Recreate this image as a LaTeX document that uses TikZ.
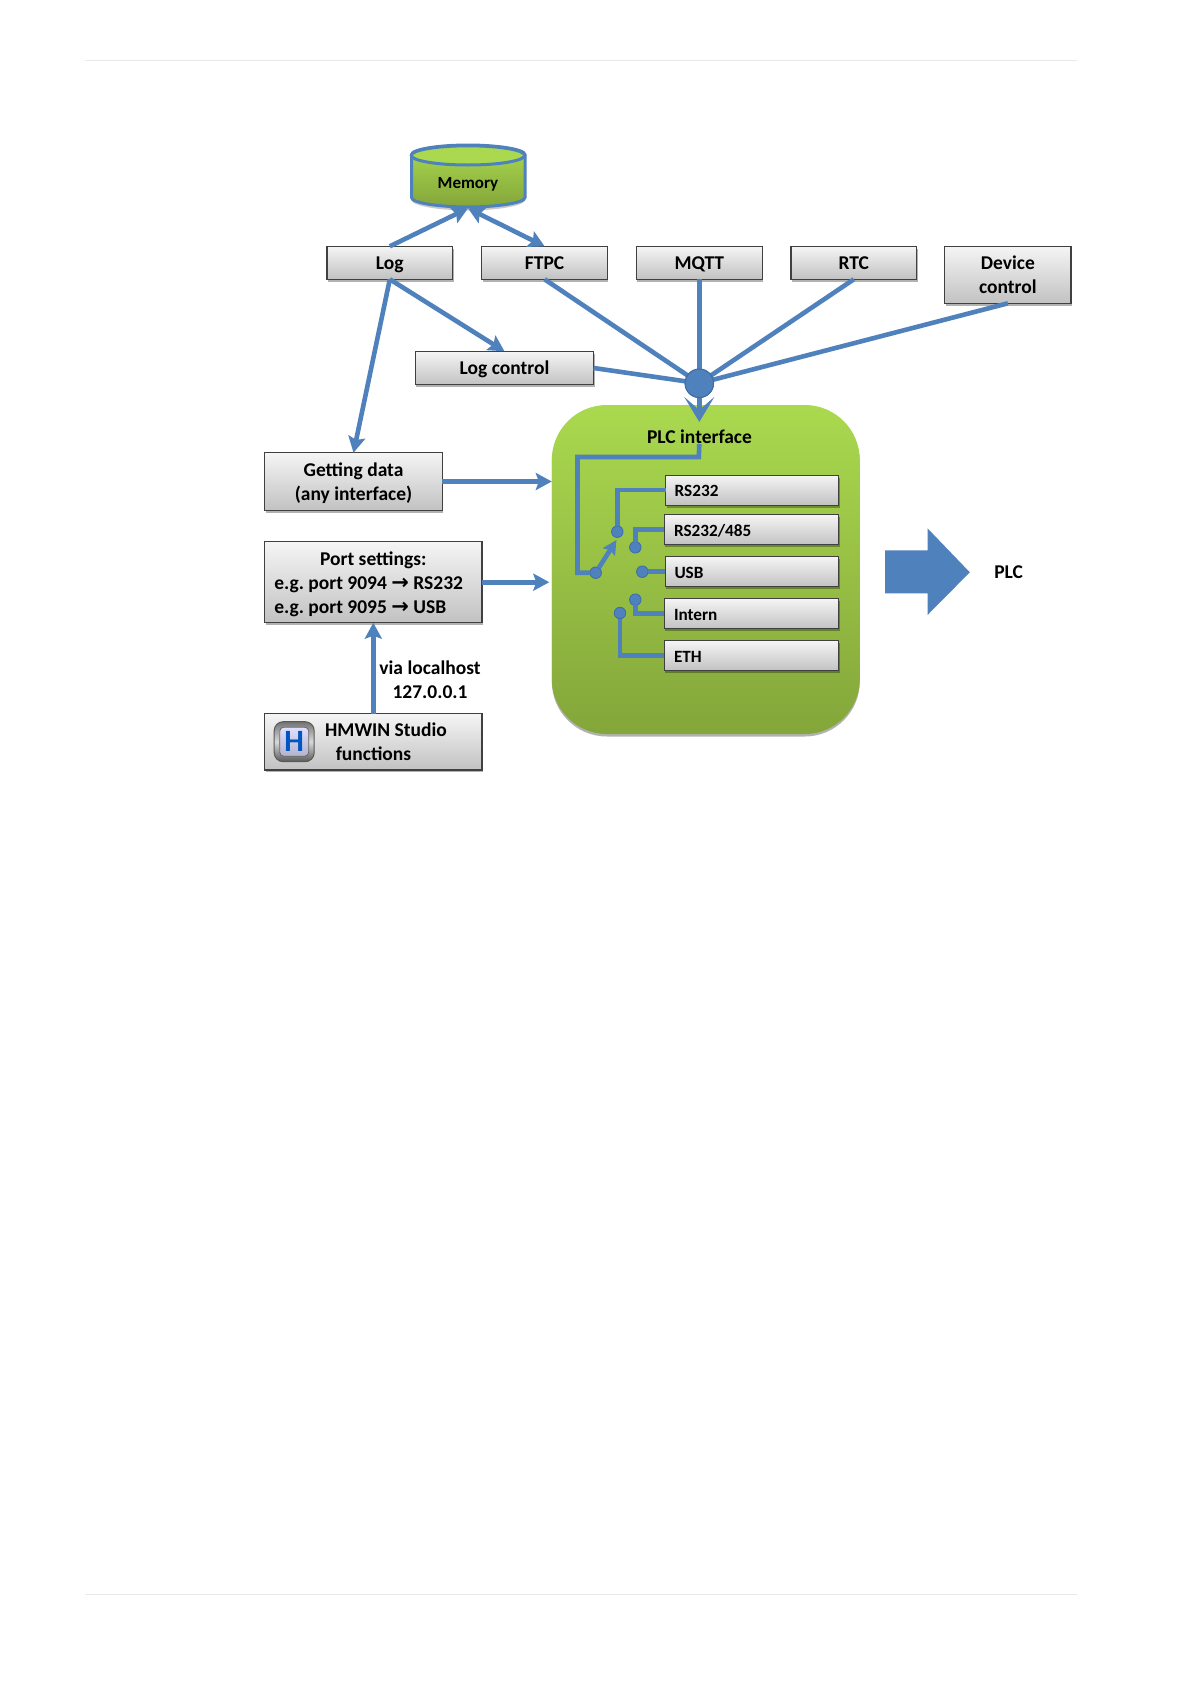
\documentclass[tikz,border=0pt]{standalone}
\usepackage{fontspec}
\setmainfont{Carlito}
\usetikzlibrary{arrows.meta,shadows,calc}
\definecolor{lnk}{HTML}{4F81BD}
\definecolor{lnkd}{HTML}{3B6CA8}
\definecolor{gtop}{HTML}{AAD94F}
\definecolor{gbot}{HTML}{84A63A}
\tikzset{
 box/.style={draw=black!75,line width=1.1pt,top color=white!96!black,bottom color=black!24,
   inner sep=0pt,outer sep=0pt,align=center,font=\frenchspacing\fontsize{19.5}{24.4}\selectfont\bfseries,
   drop shadow={shadow xshift=1pt,shadow yshift=-2.5pt,opacity=.3,fill=black}},
 one/.style={text height=16.5pt,text depth=3pt},
 port/.style={box,one,font=\fontsize{17.2}{20}\selectfont\bfseries,text width=155pt,align=left,minimum width=173.5pt,minimum height=30pt,line width=1pt},
 lnkl/.style={draw=lnk,line width=4.6pt},
 arr/.style={lnkl,-{Stealth[length=16pt,width=17pt,inset=3pt]}},
 dot/.style={circle,fill=lnk,draw=lnkd,line width=.8pt,minimum size=11.5pt,inner sep=0pt,outer sep=0pt},
 lab/.style={inner sep=0pt,align=center,font=\fontsize{19.5}{24.4}\selectfont\bfseries},
}
\begin{document}
\begin{tikzpicture}[x=1pt,y=-1pt]
\useasboundingbox (0,0) rectangle (1191,1684);
\fill[white] (0,0) rectangle (1191,1684);
\coordinate (hl) at (85,60.7); \coordinate (hr) at (1077,60.7);
\coordinate (fl) at (85,1594.7); \coordinate (fr) at (1077,1594.7);
\draw[black!9,line width=1.4pt] (hl) -- (hr);
\draw[black!9,line width=1.4pt] (fl) -- (fr);
% memory
\node[inner sep=0pt,outer sep=0pt,minimum width=114pt,minimum height=64pt] (mem) at (468,176.3) {};
\fill[black!35,opacity=.6] (411.5,157) -- (411.5,200)
  .. controls (411.5,206) and (440,210.5) .. (468,210.5) .. controls (496,210.5) and (525,206) .. (525,200) -- (525,157) -- cycle;
\draw[lnk,line width=3pt,top color=gtop,bottom color=gbot] (411.5,154.7) -- (411.5,197.5)
  .. controls (411.5,203) and (440,207) .. (468,207) .. controls (496,207) and (525,203) .. (525,197.5) -- (525,154.7)
  .. controls (525,149) and (496,145) .. (468,145) .. controls (440,145) and (411.5,149) .. (411.5,154.7) -- cycle;
\draw[lnk,line width=3pt,fill=gtop] (468,155.4) ellipse[x radius=56.7,y radius=9.6];
\node[lab,font=\fontsize{17}{20}\selectfont\bfseries] (memlab) at (468,184.5) {Memory};
% PLC block
\node[draw=none,top color=gtop,bottom color=gbot,rounded corners=55pt,minimum width=308pt,minimum height=329pt,inner sep=0pt,outer sep=0pt,
  drop shadow={shadow xshift=0pt,shadow yshift=-2.5pt,opacity=.3,fill=black}] (plc) at (705.8,569.5) {};
\node[lab] (plcl) at (699.5,436.5) {PLC interface};
% top row
\node[box,one,minimum width=125.7pt,minimum height=33pt] (log) at (389.8,262.8) {Log};
\node[box,one,minimum width=125.7pt,minimum height=33pt] (ftpc) at (544.6,262.8) {FTPC};
\node[box,one,minimum width=125.7pt,minimum height=33pt] (mqtt) at (699.3,262.8) {MQTT};
\node[box,one,minimum width=125.7pt,minimum height=33pt] (rtc) at (853.8,262.8) {RTC};
\node[box,minimum width=126.2pt,minimum height=57pt] (dev) at (1007.9,274.8) {Device\\control};
\node[box,one,minimum width=178.3pt,minimum height=33.4pt] (logc) at (504.5,368) {Log control};
\node[circle,fill=lnk,draw=lnkd,line width=.8pt,minimum size=28.5pt,inner sep=0pt,outer sep=0pt] (hub) at (699.3,383.3) {};
\node[box,minimum width=177.8pt,minimum height=57.6pt] (get) at (353.5,481.5) {\rule{0pt}{17pt}Getting data\\(any interface)};
\node[box,align=flush center,minimum width=217.4pt,minimum height=81pt,text width=198pt] (ps) at (373.3,582.2) {\rule{0pt}{18pt}Port settings:\\\makebox[198pt][l]{e.g. port 9094 {\fontspec{DejaVu Sans}\fontsize{21}{20}\selectfont →} RS232}\\\makebox[198pt][l]{e.g. port 9095 {\fontspec{DejaVu Sans}\fontsize{21}{20}\selectfont →} USB}};
\node[box,minimum width=217.4pt,minimum height=56.3pt] (hm) at (373.3,741.8) {};
\node[lab] (hm1) at (386,729.5) {HMWIN Studio};
\node[lab] (hm2) at (373.5,753.5) {functions};
\node[lab] (via) at (430,679.5) {via localhost\\127.0.0.1};
% icon
\node[draw=black!65,line width=1pt,rounded corners=9pt,top color=black!55,bottom color=black!65,middle color=black!15,minimum size=40pt,inner sep=0pt] (icon) at (294.2,741.7) {};
\node[draw=black!60,line width=.8pt,rounded corners=4pt,top color=blue!12!white,bottom color=blue!35!black!30,minimum width=29pt,minimum height=29pt,inner sep=0pt] (iconin) at (294.2,741.7) {};
\node[text=blue!55!cyan!75!black,inner sep=0pt,font=\fontsize{31}{31}\selectfont\bfseries] (iconh) at (294.2,741.7) {H};
% inner ports
\node[port,minimum width=173pt] (r1) at (752.2,490) {RS232};
\node[port,minimum width=174.4pt] (r2) at (751.5,529.7) {RS232/485};
\node[port,minimum width=173.4pt] (r3) at (752,571.7) {USB};
\node[port,minimum width=174.4pt] (r4) at (751.5,613.7) {Intern};
\node[port,minimum width=174.4pt] (r5) at (751.5,655.7) {ETH};
\node[dot] (c1) at (617.3,531.7) {};
\node[dot] (c2) at (635.3,547.3) {};
\node[dot] (c3) at (642.3,571.7) {};
\node[dot] (c4) at (635.3,599.7) {};
\node[dot] (c5) at (620,613) {};
\node[dot] (c0) at (595.7,572.7) {};
\coordinate (swt) at (616.5,540);
\coordinate (bk1) at (698.8,457);
\coordinate (bk2) at (577.5,457);
\coordinate (bk3) at (577.5,572.7);
\coordinate (plcin) at (699.3,422);
\coordinate (lbl) at (699.3,444);
% connectors
\draw[lnkl,line join=miter] (lbl) -- (bk1) -- (bk2) -- (bk3) -- (c0);
\draw[arr,-{Stealth[length=14pt,width=14pt,inset=2pt]}] (c0) -- (swt);
\draw[lnkl] (r1.west) -| (c1.north);
\draw[lnkl] (r2.west) -| (c2.north);
\draw[lnkl] (r3.west) -- (c3.east);
\draw[lnkl] (r4.west) -| (c4.south);
\draw[lnkl] (r5.west) -| (c5.south);
\draw[arr] (log.north) -- (mem.south);
\draw[arr,{Stealth[length=16pt,width=17pt,inset=3pt]}-{Stealth[length=16pt,width=17pt,inset=3pt]}] (mem.south) -- (ftpc.north);
\draw[arr] (log.south) -- (logc.north);
\draw[arr] (log.south) -- (get.north);
\draw[lnkl] (ftpc.south) -- (hub);
\draw[lnkl] (mqtt.south) -- (hub);
\draw[lnkl] (rtc.south) -- (hub);
\draw[lnkl] (dev.south) -- (hub);
\draw[lnkl] (logc.east) -- (hub);
\draw[lnkl,-{Stealth[length=25pt,width=30pt,inset=13pt]}] (hub.south) -- (plcin);
\draw[arr] (get.east) -- (get.east -| plc.west);
\draw[arr] (ps.east) -- ([xshift=-2.5pt]ps.east -| plc.west);
\draw[arr] (hm.north) -- (ps.south);
\node[circle,fill=lnk,draw=lnkd,line width=1pt,minimum size=28.5pt,inner sep=0pt] (hubtop) at (hub) {};
% PLC big arrow
\node[lab] (plclab) at (1008.7,572) {PLC};
\fill[lnk] (885.2,550.3) -- (927.5,550.3) -- (927.5,528.3) -- (969.8,572.3) -- (927.5,615) -- (927.5,593.3) -- (885.2,593.3) -- cycle;
\end{tikzpicture}
\end{document}
